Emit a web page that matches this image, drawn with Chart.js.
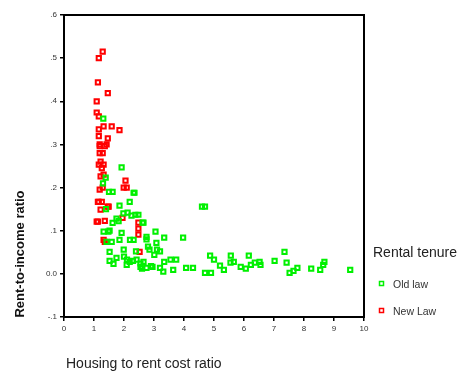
<!DOCTYPE html>
<html><head><meta charset="utf-8">
<script src="https://cdn.jsdelivr.net/npm/chart.js@4.4.1/dist/chart.umd.min.js"></script>
<style>html,body{margin:0;padding:0;background:#fff;}</style>
</head><body>
<canvas id="c" width="457" height="373"></canvas>
<script>
const seriesNames = ["Old law", "New Law"];
const legendTitle = "Rental tenure";
const xTitle = "Housing to rent cost ratio";
const yTitle = "Rent-to-income ratio";
const yTickLabels = ["-.1", "0.0", ".1", ".2", ".3", ".4", ".5", ".6"];
const xTickLabels = ["0","1","2","3","4","5","6","7","8","9","10"];

const oldLawX = [1.31,1.39,1.92,1.62,2.32,2.19,1.85,2.12,1.75,2.48,2.38,2.62,1.32,1.52,1.92,2.32,1.59,1.85,3.05,3.34,3.97,2.75,3.08,1.52,1.99,2.85,3.01,2.19,2.42,2.65,2.09,2.75,3.34,3.74,3.31,3.64,4.07,4.30,1.75,1.42,1.52,1.65,2.55,2.95,4.60,4.70,4.87,5.00,4.70,4.90,5.20,5.33,5.56,5.66,5.55,5.89,6.06,6.16,6.23,6.36,6.52,6.55,7.02,7.35,7.42,7.52,7.65,7.78,8.24,8.54,8.64,8.68,9.54,1.30,1.50,2.35,1.98,2.25,2.65,1.82,1.62,1.48,2.20,2.75,2.80,3.10,3.20,2.40,2.10,2.30,2.55,2.90,3.55,3.20,1.40,2.00,2.60];
const oldLawY = [0.360,0.223,0.247,0.190,0.188,0.167,0.158,0.142,0.128,0.137,0.137,0.119,0.098,0.100,0.095,0.079,0.074,0.079,0.098,0.084,0.084,0.086,0.072,0.051,0.056,0.056,0.044,0.028,0.033,0.028,0.021,0.014,0.028,0.033,0.005,0.009,0.014,0.014,0.037,0.074,0.030,0.023,0.016,0.016,0.156,0.156,0.042,0.033,0.002,0.002,0.019,0.009,0.042,0.028,0.026,0.016,0.012,0.042,0.021,0.026,0.028,0.021,0.030,0.051,0.026,0.002,0.007,0.014,0.012,0.009,0.021,0.028,0.009,0.210,0.190,0.188,0.140,0.135,0.119,0.122,0.118,0.098,0.079,0.080,0.063,0.056,0.052,0.052,0.033,0.030,0.024,0.018,0.033,0.014,0.150,0.040,0.012];

const newLawX = [1.29,1.16,1.13,1.46,1.09,1.09,1.16,1.32,1.59,1.85,1.16,1.16,1.46,1.19,1.42,1.19,1.36,1.19,1.29,1.22,1.16,1.32,1.26,1.22,1.32,2.05,1.99,2.09,1.19,1.29,1.13,1.26,1.46,1.22,1.13,1.36,1.95,2.48,2.48,2.48,1.36,2.52,1.09,1.16,1.49,1.32];
const newLawY = [0.515,0.500,0.444,0.419,0.400,0.374,0.365,0.342,0.342,0.333,0.335,0.319,0.314,0.300,0.300,0.296,0.296,0.280,0.280,0.260,0.253,0.253,0.245,0.226,0.230,0.216,0.200,0.200,0.195,0.200,0.167,0.167,0.156,0.149,0.121,0.123,0.130,0.119,0.105,0.091,0.074,0.051,0.121,0.167,0.156,0.079];

const seriesColors = ["#00f000", "#ff0000"];

function toPoints(xs, ys) { return xs.map((x, i) => ({ x: x, y: ys[i] })); }

const FONT = "'Liberation Sans', Arial, sans-serif";

const decor = {
  id: 'decor',
  afterDraw(chart) {
    const ctx = chart.ctx, a = chart.chartArea;
    ctx.save();
    ctx.strokeStyle = '#000';
    ctx.lineWidth = 2;
    ctx.strokeRect(a.left, a.top, a.right - a.left, a.bottom - a.top);
    ctx.fillStyle = '#111';
    // y title
    ctx.save();
    ctx.translate(20, 254);
    ctx.rotate(-Math.PI / 2);
    ctx.font = "bold 13px " + FONT;
    ctx.textAlign = 'center';
    ctx.textBaseline = 'middle';
    ctx.fillText(yTitle, 0, 0);
    ctx.restore();
    // x title
    ctx.font = "14px " + FONT;
    ctx.textAlign = 'left';
    ctx.textBaseline = 'middle';
    ctx.fillStyle = '#222';
    ctx.fillText(xTitle, 66, 364);
    // legend
    ctx.font = "14px " + FONT;
    ctx.fillText(legendTitle, 373, 253);
    const rows = [284, 311];
    chart.data.datasets.forEach((ds, i) => {
      const y = rows[i];
      ctx.strokeStyle = ds.borderColor;
      ctx.lineWidth = 1.5;
      ctx.strokeRect(379.5, y - 2.5, 4, 4);
      ctx.fillStyle = '#333';
      ctx.font = "10.5px " + FONT;
      ctx.fillText(ds.label, 393, y + 1);
    });
    ctx.restore();
  }
};

new Chart(document.getElementById('c'), {
  type: 'scatter',
  data: {
    datasets: [
      { label: seriesNames[0], data: toPoints(oldLawX, oldLawY), borderColor: seriesColors[0], backgroundColor: 'rgba(0,0,0,0)', pointStyle: 'rect', pointRadius: 3, borderWidth: 2 },
      { label: seriesNames[1], data: toPoints(newLawX, newLawY), borderColor: seriesColors[1], backgroundColor: 'rgba(0,0,0,0)', pointStyle: 'rect', pointRadius: 3, borderWidth: 2 }
    ]
  },
  options: {
    responsive: false,
    animation: false,
    devicePixelRatio: 1,
    layout: { padding: { left: 0, top: 15, right: 93, bottom: 0 } },
    plugins: { legend: { display: false }, tooltip: { enabled: false } },
    scales: {
      x: {
        type: 'linear', min: 0, max: 10,
        afterFit(s) { s.height = 56; },
        ticks: { stepSize: 1, color: '#333', font: { size: 8, family: FONT }, padding: 3, maxRotation: 0,
          callback: (v, i) => xTickLabels[i] },
        grid: { drawOnChartArea: false, drawTicks: true, tickLength: 4, color: '#000', lineWidth: 1.5 },
        border: { display: true, color: '#000', width: 2 }
      },
      y: {
        type: 'linear', min: -0.1, max: 0.6,
        afterFit(s) { s.width = 64; },
        ticks: { stepSize: 0.1, color: '#333', font: { size: 8, family: FONT }, padding: 3,
          callback: (v, i) => yTickLabels[i] },
        grid: { drawOnChartArea: false, drawTicks: true, tickLength: 4, color: '#000', lineWidth: 1.5 },
        border: { display: true, color: '#000', width: 2 }
      }
    }
  },
  plugins: [decor]
});
</script>
</body></html>
